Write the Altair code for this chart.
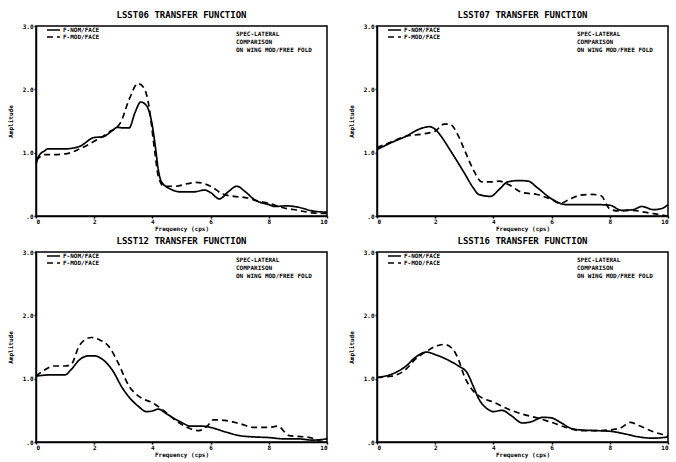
import altair as alt
import pandas as pd

# ---------------- data ----------------
titles = ["LSST06 TRANSFER FUNCTION", "LSST07 TRANSFER FUNCTION",
          "LSST12 TRANSFER FUNCTION", "LSST16 TRANSFER FUNCTION"]
series_names = ["F-NOM/FACE", "F-MOD/FACE"]
notes = "SPEC-LATERAL\nCOMPARISON\nON WING MOD/FREE FOLD"

# LSST06
s06_x = [0, 0.1, 0.3, 0.4, 1.0, 1.5, 2.0, 2.3, 2.6, 2.8, 3.0, 3.2, 3.4, 3.6, 3.8, 4.0, 4.1, 4.2, 4.3,
         4.6, 5.0, 5.4, 5.8, 6.0, 6.3, 6.6, 6.9, 7.2, 7.5, 8.0, 8.2, 8.6, 9.0, 9.5, 10.0]
s06_y = [0.82, 0.95, 1.03, 1.06, 1.06, 1.10, 1.24, 1.25, 1.34, 1.40, 1.39, 1.39, 1.63, 1.80, 1.74, 1.42, 1.10, 0.74, 0.55,
         0.43, 0.38, 0.38, 0.41, 0.37, 0.27, 0.38, 0.47, 0.38, 0.26, 0.18, 0.15, 0.16, 0.14, 0.08, 0.06]
d06_x = [0, 0.15, 0.3, 0.5, 1.0, 1.5, 2.0, 2.5, 2.9, 3.2, 3.5, 3.7, 3.9, 4.0, 4.1, 4.2, 4.4, 4.8, 5.2, 5.5,
         6.0, 6.4, 6.8, 7.2, 7.6, 8.0, 8.5, 9.0, 9.5, 10.0]
d06_y = [0.88, 0.94, 0.97, 0.97, 0.98, 1.06, 1.18, 1.32, 1.47, 1.84, 2.09, 2.03, 1.68, 1.32, 0.95, 0.63, 0.47, 0.47, 0.51, 0.53,
         0.47, 0.35, 0.31, 0.29, 0.24, 0.20, 0.13, 0.09, 0.05, 0.04]

# LSST07
s07_x = [0, 0.5, 1.0, 1.5, 1.8, 2.0, 2.2, 2.5, 3.0, 3.3, 3.5, 3.9, 4.2, 4.5, 4.9, 5.2, 5.5, 6.0, 6.5,
         7.0, 7.5, 8.0, 8.4, 8.8, 9.1, 9.5, 9.8, 10.0]
s07_y = [1.05, 1.16, 1.26, 1.38, 1.41, 1.37, 1.26, 1.05, 0.68, 0.45, 0.34, 0.31, 0.42, 0.54, 0.56, 0.55, 0.45, 0.27, 0.18,
         0.18, 0.18, 0.17, 0.09, 0.10, 0.15, 0.10, 0.12, 0.18]
d07_x = [0, 0.5, 1.0, 1.5, 2.0, 2.3, 2.5, 2.8, 3.0, 3.3, 3.6, 4.0, 4.2, 4.5, 5.0, 5.5, 6.0, 6.3, 6.6,
         7.0, 7.4, 7.7, 8.0, 8.3, 8.8, 9.2, 9.6, 10.0]
d07_y = [1.08, 1.17, 1.26, 1.29, 1.34, 1.45, 1.45, 1.26, 1.05, 0.74, 0.54, 0.54, 0.55, 0.50, 0.37, 0.34, 0.26, 0.20, 0.26,
         0.33, 0.34, 0.32, 0.11, 0.08, 0.09, 0.06, 0.03, 0.0]

# LSST12
s12_x = [0, 0.5, 1.0, 1.2, 1.5, 1.8, 2.0, 2.3, 2.6, 3.0, 3.5, 3.8, 4.0, 4.2, 4.5, 5.0, 5.3, 5.7, 6.0,
         6.5, 7.0, 7.5, 8.0, 8.5, 9.0, 9.5, 10.0]
s12_y = [1.04, 1.06, 1.06, 1.14, 1.30, 1.36, 1.36, 1.30, 1.15, 0.83, 0.57, 0.48, 0.49, 0.52, 0.44, 0.31, 0.25, 0.25, 0.23,
         0.16, 0.10, 0.08, 0.07, 0.05, 0.05, 0.03, 0.05]
d12_x = [0, 0.3, 0.6, 1.0, 1.2, 1.5, 1.9, 2.2, 2.5, 2.8, 3.2, 3.6, 4.0, 4.4, 4.8, 5.2, 5.6, 5.9, 6.1,
         6.5, 7.0, 7.5, 8.0, 8.3, 8.7, 9.0, 9.5, 9.8, 10.0]
d12_y = [1.04, 1.14, 1.20, 1.20, 1.22, 1.53, 1.65, 1.61, 1.51, 1.27, 0.88, 0.70, 0.62, 0.49, 0.34, 0.23, 0.18, 0.26, 0.35,
         0.34, 0.29, 0.23, 0.23, 0.25, 0.10, 0.09, 0.06, 0.01, 0.06]

# LSST16
s16_x = [0, 0.5, 1.0, 1.3, 1.7, 2.0, 2.5, 2.8, 3.1, 3.3, 3.5, 3.8, 4.0, 4.3, 4.6, 5.0, 5.3, 5.7, 6.0,
         6.3, 6.7, 7.0, 7.5, 8.0, 8.5, 9.0, 9.5, 10.0]
s16_y = [1.02, 1.07, 1.20, 1.33, 1.42, 1.38, 1.28, 1.20, 1.09, 0.89, 0.68, 0.52, 0.48, 0.50, 0.42, 0.30, 0.32, 0.39, 0.38,
         0.31, 0.21, 0.19, 0.18, 0.17, 0.13, 0.08, 0.06, 0.08]
d16_x = [0, 0.5, 1.0, 1.3, 1.7, 2.0, 2.3, 2.6, 2.8, 3.0, 3.3, 3.6, 4.0, 4.5, 5.0, 5.5, 6.0, 6.5, 7.0,
         7.5, 8.0, 8.4, 8.7, 9.0, 9.5, 10.0]
d16_y = [1.02, 1.04, 1.15, 1.30, 1.43, 1.51, 1.54, 1.47, 1.30, 1.04, 0.81, 0.70, 0.63, 0.52, 0.44, 0.38, 0.31, 0.23, 0.18,
         0.18, 0.19, 0.23, 0.31, 0.26, 0.16, 0.10]

panels = [(s06_x, s06_y, d06_x, d06_y), (s07_x, s07_y, d07_x, d07_y),
          (s12_x, s12_y, d12_x, d12_y), (s16_x, s16_y, d16_x, d16_y)]

FONT = "DejaVu Sans Mono"
DASHES = [[1, 0], [6, 4]]


def make_panel(title, sx, sy, dx, dy):
    rows = [{"f": x, "a": y, "s": series_names[0], "o": i} for i, (x, y) in enumerate(zip(sx, sy))]
    rows += [{"f": x, "a": y, "s": series_names[1], "o": i} for i, (x, y) in enumerate(zip(dx, dy))]
    df = pd.DataFrame(rows)
    lines = alt.Chart(df).mark_line(color="black", strokeWidth=1.7, interpolate="monotone").encode(
        x=alt.X("f:Q", scale=alt.Scale(domain=[0, 10], nice=False),
                axis=alt.Axis(values=[0, 2, 4, 6, 8, 10], title="Frequency (cps)", format="d",
                              labelPadding=0, titlePadding=1)),
        y=alt.Y("a:Q", scale=alt.Scale(domain=[0, 3], nice=False),
                axis=alt.Axis(values=[0, 1, 2, 3], title="Amplitude", titlePadding=9,
                              labelExpr="datum.value == 0 ? '.0' : format(datum.value, '.1f')")),
        strokeDash=alt.StrokeDash("s:N", scale=alt.Scale(domain=series_names, range=DASHES), legend=None),
        order="o:Q",
        detail="s:N",
    )
    layers = [lines]
    # hand-drawn key in the upper-left corner of the plot
    for k, name in enumerate(series_names):
        yk = 4 + 7 * k
        layers.append(alt.Chart(pd.DataFrame({"s": [name]})).mark_rule(
            color="black", strokeWidth=1.6, strokeDash=DASHES[k]
        ).encode(x=alt.value(11), x2=alt.value(24), y=alt.value(yk)))
        layers.append(alt.Chart(pd.DataFrame({"s": [name]})).mark_text(
            align="left", baseline="middle", fontSize=6, font=FONT, fontWeight="bold", color="black"
        ).encode(x=alt.value(27), y=alt.value(yk), text="s:N"))
    note = alt.Chart(pd.DataFrame({"t": [notes]})).mark_text(
        align="left", baseline="top", fontSize=6, font=FONT, fontWeight="bold",
        lineBreak="\n", lineHeight=8, color="black"
    ).encode(x=alt.value(200), y=alt.value(5), text="t:N")
    layers.append(note)
    return alt.layer(*layers).properties(
        width=291, height=190,
        title=alt.TitleParams(title, fontSize=9, font=FONT, fontWeight="bold", offset=3,
                              frame="group", color="black"),
    )


charts = [make_panel(t, *p) for t, p in zip(titles, panels)]

chart = alt.concat(*charts, columns=2, spacing=alt.RowColnumber(row=36, column=50), bounds="flush").resolve_scale(
    strokeDash="independent"
).properties(
    padding={"left": 6, "top": 10, "right": 2, "bottom": 2}, background="white"
).configure_view(
    stroke="black", strokeWidth=1.5
).configure_axis(
    grid=False, domainColor="black", domainWidth=1.5, tickColor="black", tickSize=2, tickWidth=1.5,
    labelFont=FONT, labelFontSize=6, labelFontWeight="bold", labelColor="black", labelPadding=1,
    titleFont=FONT, titleFontSize=6, titleFontWeight="bold", titleColor="black", titlePadding=3,
)

chart.save("out.html", embed_options={"renderer": "svg", "actions": False})
